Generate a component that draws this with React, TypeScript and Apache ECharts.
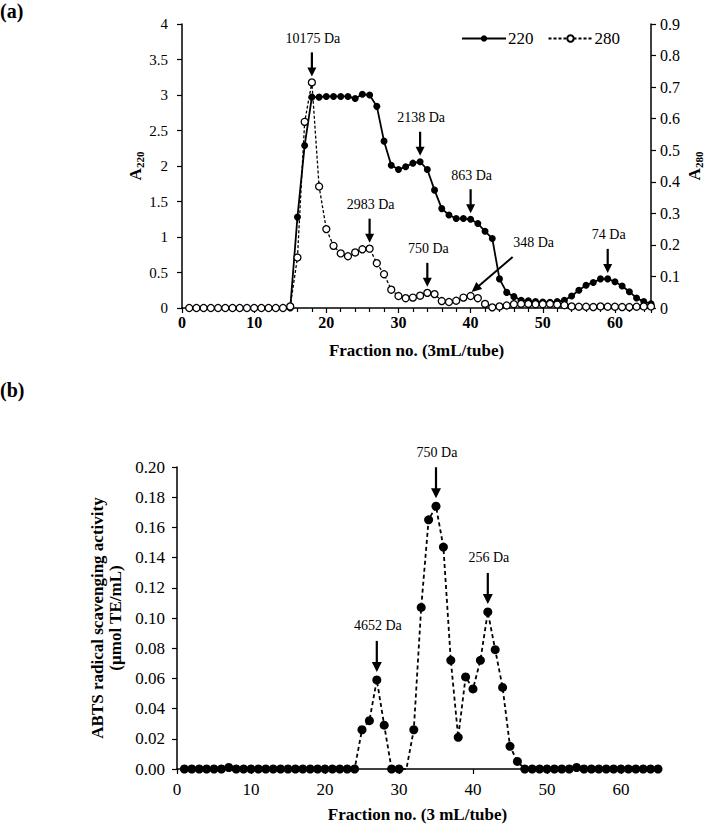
import React, { useEffect, useRef } from "react";
import * as echarts from "echarts";

// ---------- DATA ----------
const fractions = [
  1, 2, 3, 4, 5, 6, 7, 8, 9, 10, 11, 12, 13, 14, 15, 16, 17, 18, 19, 20,
  21, 22, 23, 24, 25, 26, 27, 28, 29, 30, 31, 32, 33, 34, 35, 36, 37, 38, 39, 40,
  41, 42, 43, 44, 45, 46, 47, 48, 49, 50, 51, 52, 53, 54, 55, 56, 57, 58, 59, 60,
  61, 62, 63, 64, 65,
];

// (a) absorbance at 220 nm (left axis)
const a220 = [
  0, 0, 0, 0, 0, 0, 0, 0, 0, 0, 0, 0, 0, 0, 0, 1.28, 2.29, 2.97, 2.97, 2.98,
  2.98, 2.98, 2.98, 2.95, 3.01, 3.0, 2.84, 2.35, 2.01, 1.95, 1.99, 2.04, 2.06, 1.95, 1.66, 1.4, 1.31, 1.26, 1.26, 1.25,
  1.19, 1.08, 0.98, 0.41, 0.22, 0.16, 0.11, 0.1, 0.09, 0.085, 0.08, 0.09, 0.11, 0.17, 0.25, 0.32, 0.36, 0.41, 0.41, 0.37,
  0.31, 0.23, 0.14, 0.09, 0.06,
];

// (a) absorbance at 280 nm (right axis)
const a280 = [
  0, 0, 0, 0, 0, 0, 0, 0, 0, 0, 0, 0, 0, 0, 0.005, 0.16, 0.59, 0.715, 0.385, 0.25,
  0.197, 0.173, 0.164, 0.176, 0.186, 0.188, 0.142, 0.107, 0.058, 0.038, 0.031, 0.033, 0.039, 0.048, 0.044, 0.022, 0.019, 0.023, 0.033, 0.038,
  0.031, 0.013, 0.002, 0.005, 0.008, 0.012, 0.013, 0.013, 0.012, 0.012, 0.013, 0.011, 0.009, 0.005, 0.004, 0.004, 0.003, 0.005, 0.004, 0.004,
  0.003, 0.003, 0.004, 0.005, 0.005,
];

// (b) ABTS radical scavenging activity
const abts = [
  0, 0, 0, 0, 0, 0, 0.001, 0, 0, 0, 0, 0, 0, 0, 0, 0, 0, 0, 0, 0,
  0, 0, 0, 0, 0.026, 0.032, 0.059, 0.029, 0, 0, 0, 0.026, 0.107, 0.165, 0.174, 0.147, 0.072, 0.021, 0.061, 0.053,
  0.072, 0.104, 0.079, 0.054, 0.015, 0.005, 0, 0, 0, 0, 0, 0, 0, 0.001, 0, 0, 0, 0, 0, 0,
  0, 0, 0, 0, 0,
];
const abtsHiddenMarkerFraction = 31;

const seriesNames = ["220", "280"];

const topAnnotations = [
  { label: "10175 Da", fraction: 18, series: "280" },
  { label: "2983 Da", fraction: 26, series: "280" },
  { label: "750 Da", fraction: 34, series: "280" },
  { label: "2138 Da", fraction: 33, series: "220" },
  { label: "863 Da", fraction: 40, series: "220" },
  { label: "74 Da", fraction: 59, series: "220" },
];
const diagonalAnnotation = { label: "348 Da", fraction: 40, series: "280" };
const bottomAnnotations = [
  { label: "4652 Da", fraction: 27 },
  { label: "750 Da", fraction: 35 },
  { label: "256 Da", fraction: 42 },
];

// ---------- STYLE ----------
const FONT = "'Liberation Serif', 'Times New Roman', serif";
const BLACK = "#000";

function arrowGraphic(x1: number, y1: number, x2: number, y2: number, headW: number, headL: number, lw: number) {
  const dx = x2 - x1;
  const dy = y2 - y1;
  const len = Math.sqrt(dx * dx + dy * dy);
  const ux = dx / len;
  const uy = dy / len;
  const bx = x2 - ux * headL;
  const by = y2 - uy * headL;
  const px = -uy;
  const py = ux;
  return {
    type: "group",
    children: [
      {
        type: "line",
        shape: { x1, y1, x2: bx + ux * 1, y2: by + uy * 1 },
        style: { stroke: BLACK, lineWidth: lw },
      },
      {
        type: "polygon",
        shape: {
          points: [
            [bx + (px * headW) / 2, by + (py * headW) / 2],
            [bx - (px * headW) / 2, by - (py * headW) / 2],
            [x2, y2],
          ],
        },
        style: { fill: BLACK },
      },
    ],
  };
}

function textGraphic(text: string, x: number, y: number, size: number, bold = false, align = "center") {
  return {
    type: "text",
    x,
    y,
    style: {
      text,
      fill: BLACK,
      fontFamily: FONT,
      fontSize: size,
      fontWeight: bold ? "bold" : "normal",
      align,
      verticalAlign: "middle",
    },
  };
}

export default function App() {
  const ref = useRef<HTMLDivElement>(null);

  useEffect(() => {
    document.body.style.margin = "0";
    if (!ref.current) return;
    const chart = echarts.init(ref.current, undefined, { renderer: "svg" });

    const axisLine = { show: true, onZero: false, lineStyle: { color: BLACK, width: 1.5 } };
    const axisTick = { show: true, inside: false, length: 5, lineStyle: { color: BLACK, width: 1.2 } };

    const option: any = {
      animation: false,
      backgroundColor: "#fff",
      textStyle: { fontFamily: FONT, color: BLACK },
      legend: {
        data: seriesNames,
        left: 456,
        top: 25,
        itemWidth: 44,
        itemHeight: 8,
        itemGap: 14,
        textStyle: { fontFamily: FONT, fontSize: 17, color: BLACK, padding: [0, 0, 0, -3] },
      },
      grid: [
        { left: 182, right: 57, top: 24, height: 284, containLabel: false, outerBoundsMode: "none" },
        { left: 177, right: 50, top: 467, height: 302, containLabel: false, outerBoundsMode: "none" },
      ],
      xAxis: [
        {
          type: "value",
          gridIndex: 0,
          min: 0,
          max: 65,
          interval: 10,
          axisLine,
          axisTick,
          minorTick: { show: true, splitNumber: 5, length: 4, lineStyle: { color: BLACK, width: 1.2 } },
          splitLine: { show: false },
          axisLabel: { fontFamily: FONT, fontSize: 16, fontWeight: "bold", color: BLACK, margin: 6, showMaxLabel: false },
          name: "Fraction no. (3mL/tube)",
          nameLocation: "middle",
          nameGap: 34,
          nameTextStyle: { fontFamily: FONT, fontSize: 17, fontWeight: "bold", color: BLACK },
        },
        {
          type: "value",
          gridIndex: 1,
          min: 0,
          max: 65,
          interval: 10,
          axisLine,
          axisTick,
          splitLine: { show: false },
          axisLabel: { fontFamily: FONT, fontSize: 17, color: BLACK, margin: 12, showMaxLabel: false },
          name: "Fraction no. (3 mL/tube)",
          nameLocation: "middle",
          nameGap: 37,
          nameTextStyle: { fontFamily: FONT, fontSize: 17, fontWeight: "bold", color: BLACK },
        },
      ],
      yAxis: [
        {
          type: "value",
          gridIndex: 0,
          position: "left",
          min: 0,
          max: 4,
          interval: 0.5,
          axisLine,
          axisTick,
          splitLine: { show: false },
          axisLabel: { fontFamily: FONT, fontSize: 15, color: BLACK, margin: 14 },
          name: "{b|A}{s|220}",
          nameLocation: "middle",
          nameRotate: 90,
          nameGap: 37,
          nameMoveOverlap: false,
          nameTextStyle: {
            rich: {
              b: { fontFamily: FONT, fontSize: 17, fontWeight: "bold", color: BLACK, lineHeight: 20 },
              s: { fontFamily: FONT, fontSize: 11, fontWeight: "bold", color: BLACK, verticalAlign: "bottom", lineHeight: 8 },
            },
          },
        },
        {
          type: "value",
          gridIndex: 0,
          position: "right",
          min: 0,
          max: 0.9,
          interval: 0.1,
          axisLine,
          axisTick,
          splitLine: { show: false },
          axisLabel: {
            fontFamily: FONT,
            fontSize: 16,
            color: BLACK,
            margin: 9,
            formatter: (v: number) => String(Math.round(v * 10) / 10),
          },
          name: "{b|A}{s|280}",
          nameLocation: "middle",
          nameRotate: 90,
          nameGap: 33,
          nameMoveOverlap: false,
          nameTextStyle: {
            rich: {
              b: { fontFamily: FONT, fontSize: 17, fontWeight: "bold", color: BLACK, lineHeight: 20 },
              s: { fontFamily: FONT, fontSize: 11, fontWeight: "bold", color: BLACK, verticalAlign: "bottom", lineHeight: 8 },
            },
          },
        },
        {
          type: "value",
          gridIndex: 1,
          min: 0,
          max: 0.2,
          interval: 0.02,
          axisLine,
          axisTick,
          splitLine: { show: false },
          axisLabel: {
            fontFamily: FONT,
            fontSize: 17,
            color: BLACK,
            margin: 12,
            formatter: (v: number) => v.toFixed(2),
          },
          name: "ABTS radical scavenging activity\n(µmol TE/mL)",
          nameLocation: "middle",
          nameRotate: 90,
          nameGap: 47,
          nameTextStyle: { fontFamily: FONT, fontSize: 17, fontWeight: "bold", color: BLACK, lineHeight: 18 },
        },
      ],
      series: [
        {
          name: "220",
          type: "line",
          xAxisIndex: 0,
          yAxisIndex: 0,
          data: fractions.map((f, i) => [f, a220[i]]),
          symbol: "circle",
          symbolSize: 7,
          showAllSymbol: true,
          itemStyle: { color: BLACK },
          lineStyle: { color: BLACK, width: 1.8 },
          z: 2,
        },
        {
          name: "280",
          type: "line",
          xAxisIndex: 0,
          yAxisIndex: 1,
          data: fractions.map((f, i) => [f, a280[i]]),
          symbol: "circle",
          symbolSize: 7,
          showAllSymbol: true,
          itemStyle: { color: "#fff", borderColor: BLACK, borderWidth: 1.3 },
          lineStyle: { color: BLACK, width: 1.3, type: [3, 2] },
          z: 3,
        },
        {
          name: "ABTS",
          type: "line",
          xAxisIndex: 1,
          yAxisIndex: 2,
          data: fractions.map((f, i) => [f, abts[i]]),
          symbol: "circle",
          symbolSize: (v: number[]) => (v[0] === abtsHiddenMarkerFraction ? 0 : 9),
          showAllSymbol: true,
          itemStyle: { color: BLACK },
          lineStyle: { color: BLACK, width: 1.8, type: [4, 3] },
          z: 2,
        },
      ],
    };

    chart.setOption(option);

    const graphics: any[] = [];
    graphics.push(textGraphic("(a)", 0, 11, 20, true, "left"));
    graphics.push(textGraphic("(b)", 0, 390, 20, true, "left"));

    const valueOf = (series: string, f: number) => {
      const idx = fractions.indexOf(f);
      return series === "220" ? a220[idx] : a280[idx];
    };

    topAnnotations.forEach((a) => {
      const yIdx = a.series === "220" ? 0 : 1;
      const p = chart.convertToPixel({ xAxisIndex: 0, yAxisIndex: yIdx } as any, [a.fraction, valueOf(a.series, a.fraction)]) as number[];
      const tip = p[1] - 6;
      const top = tip - 24;
      graphics.push(arrowGraphic(p[0], top, p[0], tip, 9, 9, 2.2));
      graphics.push(textGraphic(a.label, p[0] + 1, top - 14, 14));
    });

    {
      const a = diagonalAnnotation;
      const p = chart.convertToPixel({ xAxisIndex: 0, yAxisIndex: 1 } as any, [a.fraction, valueOf(a.series, a.fraction)]) as number[];
      const tipX = p[0] + 1;
      const tipY = p[1] - 4;
      graphics.push(arrowGraphic(tipX + 41, tipY - 35, tipX, tipY, 9, 10, 2));
      graphics.push(textGraphic(a.label, tipX + 62, tipY - 50, 14));
    }

    bottomAnnotations.forEach((a) => {
      const idx = fractions.indexOf(a.fraction);
      const p = chart.convertToPixel({ xAxisIndex: 1, yAxisIndex: 2 } as any, [a.fraction, abts[idx]]) as number[];
      const tip = p[1] - 8;
      const top = tip - 31;
      graphics.push(arrowGraphic(p[0], top, p[0], tip, 10, 10, 2.2));
      graphics.push(textGraphic(a.label, p[0] + 1, top - 15, 14));
    });

    chart.setOption({ graphic: graphics });

    return () => {
      chart.dispose();
    };
  }, []);

  return <div ref={ref} style={{ width: 708, height: 824 }} />;
}
